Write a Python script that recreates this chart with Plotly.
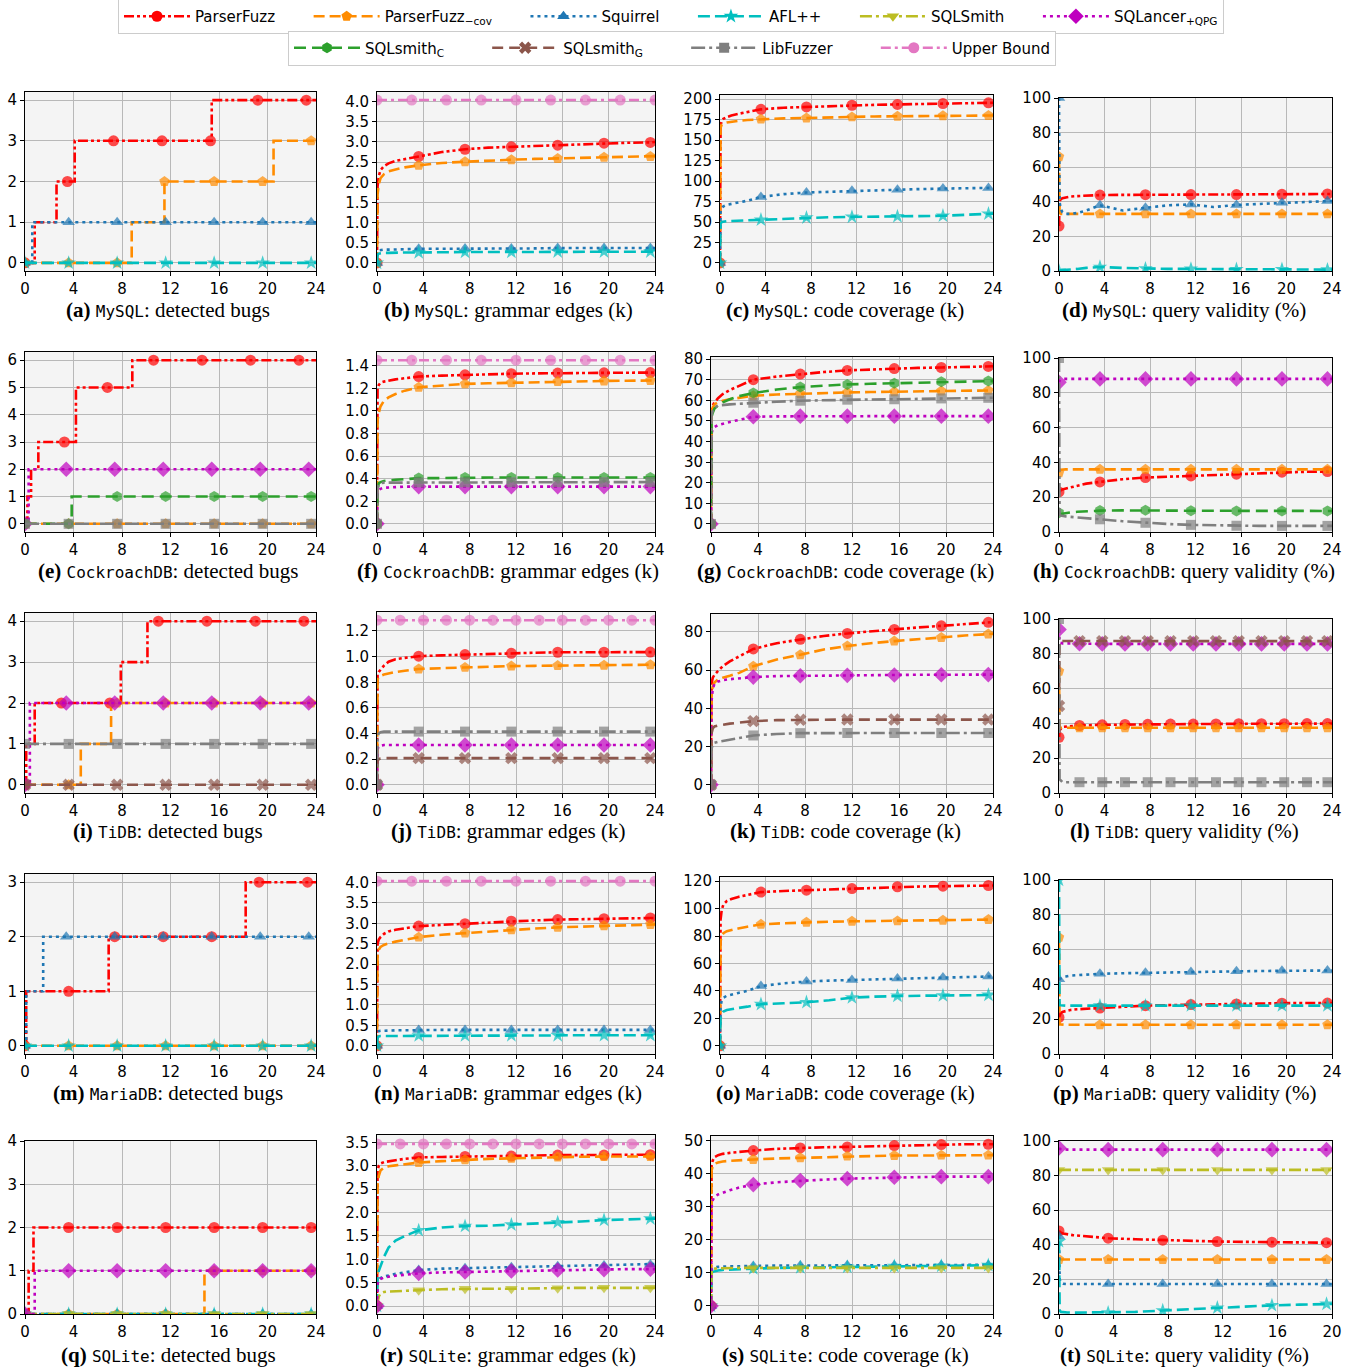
import plotly.graph_objects as go

W, H = 1357, 1368

# ---------------- shared time grids (hours) ----------------
T = [0, 0.05, 0.15, 0.3, 0.6, 1.0, 1.6, 2.4, 3.6, 5.6, 7.6, 9.6, 11.6, 13.6, 15.6, 17.6, 19.6, 21.6, 23.6, 24]
MK = [0, 3.6, 7.6, 11.6, 15.6, 19.6, 23.6]
T_L = [0, 0.05, 0.3, 1.8, 3.8, 5.8, 7.8, 9.8, 11.8, 13.8, 15.8, 17.8, 19.8, 21.8, 23.6, 24]
MK_L = [0, 1.8, 3.8, 5.8, 7.8, 9.8, 11.8, 13.8, 15.8, 17.8, 19.8, 21.8, 23.6]
T_T = [0, 0.05, 0.15, 0.3, 0.6, 1.0, 1.6, 2.4, 3.6, 5.6, 7.6, 9.6, 11.6, 13.6, 15.6, 17.6, 19.6, 20]
UB_T3 = [0, 3, 6, 9, 12, 15, 18, 21, 24]
UB_T2 = [0, 2, 4, 6, 8, 10, 12, 14, 16, 18, 20, 22, 24]
ZERO_T = [0, 3.6, 7.6, 11.6, 15.6, 19.6, 23.6, 24]
ZERO_V = [0, 0, 0, 0, 0, 0, 0, 0]

# ---------------- (a) MySQL: detected bugs ----------------
A_PF_T = [0, 0.8, 2.6, 3.5, 4.1, 7.3, 11.3, 15.3, 15.4, 19.2, 23.2, 24]
A_PF_V = [0, 1, 2, 2, 3, 3, 3, 3, 4, 4, 4, 4]
A_PF_M = [0, 3.5, 7.3, 11.3, 15.3, 19.2, 23.2]
A_COV_T = [0, 3.6, 7.6, 8.8, 11.5, 15.6, 19.6, 20.5, 23.6, 24]
A_COV_V = [0, 0, 0, 1, 2, 2, 2, 3, 3, 3]
A_COV_M = [0, 3.6, 7.6, 11.5, 15.6, 19.6, 23.6]
A_SQ_T = [0, 0.6, 3.6, 7.6, 11.6, 15.6, 19.6, 23.6, 24]
A_SQ_V = [0, 1, 1, 1, 1, 1, 1, 1, 1]

# ---------------- (b) MySQL: grammar edges (k) ----------------
B_PF = [0, 1.9, 2.15, 2.3, 2.4, 2.47, 2.53, 2.58, 2.64, 2.75, 2.82, 2.86, 2.88, 2.9, 2.92, 2.95, 2.97, 2.98, 2.99, 3.0]
B_COV = [0, 1.7, 1.95, 2.1, 2.2, 2.27, 2.32, 2.37, 2.42, 2.48, 2.51, 2.54, 2.56, 2.58, 2.59, 2.61, 2.62, 2.63, 2.64, 2.65]
B_SQ = [0, 0.28, 0.31, 0.32, 0.33, 0.33, 0.34, 0.34, 0.35, 0.35, 0.36, 0.36, 0.36, 0.36, 0.37, 0.37, 0.37, 0.37, 0.37, 0.37]
B_AFL = [0, 0.2, 0.23, 0.24, 0.25, 0.25, 0.26, 0.26, 0.26, 0.27, 0.27, 0.27, 0.27, 0.27, 0.28, 0.28, 0.28, 0.28, 0.28, 0.28]
B_UB = 4.04

# ---------------- (c) MySQL: code coverage (k) ----------------
C_PF = [0, 168, 173, 176, 178, 180, 182, 184, 187.5, 189.5, 190.5, 191.5, 192.5, 193, 193.5, 194, 194.5, 195, 195.5, 195.5]
C_COV = [0, 165, 169, 170.5, 171.5, 172.5, 173.5, 174.5, 175.5, 176.5, 177, 177.8, 178.3, 178.8, 179, 179.3, 179.6, 179.8, 180, 180]
C_SQ = [0, 62, 67, 69, 71, 72, 74, 76, 80.5, 84, 86, 87, 88, 88.8, 89.5, 90.2, 90.8, 91.2, 91.6, 91.7]
C_AFL = [0, 48, 50, 50.5, 51, 51.3, 51.6, 52, 52.7, 54, 55.3, 55.8, 56.2, 56.5, 56.8, 57.2, 57.6, 58.8, 60, 60.2]

# ---------------- (d) MySQL: query validity (%) ----------------
D_PF = [26, 40, 41.5, 42, 42.5, 43, 43.3, 43.6, 43.9, 44, 44.1, 44.1, 44.2, 44.2, 44.2, 44.3, 44.3, 44.4, 44.5, 44.5]
D_COV = [66, 34, 33, 33, 33, 33, 33, 33, 33, 33, 33, 33, 33, 33, 33, 33, 33, 33, 33, 33]
D_SQ = [100, 40, 36, 34, 33, 33, 33.5, 35, 38, 35, 36.5, 38, 38.5, 37, 38.2, 38.8, 39.5, 40, 40.5, 40.5]
D_AFL = [0, 0.3, 0.4, 0.5, 0.6, 0.8, 1.2, 1.8, 2.3, 1.8, 1.4, 1.2, 1.2, 1.1, 1.0, 1.0, 1.0, 0.9, 0.8, 0.8]

# ---------------- (e) CockroachDB: detected bugs ----------------
E_PF_T = [0, 0.2, 0.5, 1.1, 3.25, 4.2, 6.8, 8.85, 10.6, 14.6, 18.6, 22.6, 24]
E_PF_V = [0, 1, 2, 3, 3, 5, 5, 6, 6, 6, 6, 6, 6]
E_PF_M = [0, 3.25, 6.8, 10.6, 14.6, 18.6, 22.6]
E_QPG_T = [0, 0.3, 3.4, 7.4, 11.4, 15.4, 19.4, 23.4, 24]
E_QPG_V = [0, 2, 2, 2, 2, 2, 2, 2, 2]
E_QPG_M = [0, 3.4, 7.4, 11.4, 15.4, 19.4, 23.4]
E_C_T = [0, 3.6, 3.85, 7.6, 11.6, 15.6, 19.6, 23.6, 24]
E_C_V = [0, 0, 1, 1, 1, 1, 1, 1, 1]

# ---------------- (f) CockroachDB: grammar edges (k) ----------------
F_PF = [0, 1.2, 1.23, 1.25, 1.26, 1.27, 1.28, 1.29, 1.305, 1.313, 1.32, 1.325, 1.33, 1.333, 1.336, 1.337, 1.338, 1.339, 1.34, 1.34]
F_COV = [0, 0.92, 0.98, 1.04, 1.09, 1.12, 1.15, 1.18, 1.21, 1.228, 1.24, 1.245, 1.25, 1.255, 1.26, 1.263, 1.266, 1.268, 1.27, 1.27]
F_C = [0, 0.3, 0.36, 0.37, 0.38, 0.385, 0.39, 0.395, 0.405, 0.405, 0.41, 0.41, 0.41, 0.41, 0.41, 0.41, 0.41, 0.41, 0.41, 0.41]
F_LIB = [0, 0.32, 0.35, 0.36, 0.365, 0.365, 0.367, 0.367, 0.367, 0.368, 0.368, 0.368, 0.369, 0.369, 0.369, 0.37, 0.37, 0.37, 0.37, 0.37]
F_QPG = [0, 0.28, 0.3, 0.31, 0.32, 0.32, 0.325, 0.33, 0.33, 0.33, 0.33, 0.33, 0.33, 0.33, 0.33, 0.33, 0.33, 0.33, 0.33, 0.33]
F_UB = 1.45

# ---------------- (g) CockroachDB: code coverage (k) ----------------
G_PF = [0, 56, 57.5, 59, 61, 63, 65, 67, 70, 71.5, 72.7, 73.7, 74.5, 75, 75.4, 75.7, 75.9, 76.2, 76.4, 76.5]
G_COV = [0, 54, 56.5, 58, 59, 59.8, 60.5, 61.3, 62.2, 62.8, 63.2, 63.5, 63.8, 64, 64.1, 64.3, 64.5, 64.7, 64.8, 64.8]
G_QPG = [0, 44, 46, 47, 48, 48.7, 49.5, 50.5, 52, 52.2, 52.3, 52.3, 52.3, 52.3, 52.3, 52.3, 52.3, 52.3, 52.3, 52.3]
G_C = [0, 52, 54, 56, 57.5, 59, 60.5, 62, 63.5, 65.2, 66.4, 67.2, 67.7, 68, 68.3, 68.7, 69, 69.2, 69.3, 69.3]
G_LIB = [0, 53, 55, 56.5, 57.5, 57.8, 58, 58.3, 58.8, 59.3, 59.8, 60.1, 60.3, 60.4, 60.5, 60.7, 60.9, 61.1, 61.2, 61.2]

# ---------------- (h) CockroachDB: query validity (%) ----------------
H_PF = [23, 23.5, 24, 24.5, 25, 25.8, 26.8, 27.8, 28.8, 30.3, 31.3, 31.8, 32.2, 32.7, 33.2, 33.8, 34.4, 34.6, 34.7, 34.7]
H_COV = [34, 35.5, 35.8, 36, 36, 36, 36, 36, 36, 36, 36, 36, 36, 36, 36, 36, 36, 36, 36, 36]
H_QPG = [86, 87, 87.5, 88, 88, 88, 88, 88, 88, 88, 88, 88, 88, 88, 88, 88, 88, 88, 88, 88]
H_C = [11, 10.2, 10.3, 10.5, 10.8, 11.2, 11.6, 12, 12.3, 12.4, 12.5, 12.3, 12.2, 12.2, 12.1, 12.1, 12.1, 12.1, 12.1, 12.1]
H_LIB = [100, 10, 9.5, 9.2, 9, 8.7, 8.3, 7.9, 7.3, 6.2, 5.3, 4.6, 4.1, 3.8, 3.6, 3.5, 3.5, 3.5, 3.5, 3.5]

# ---------------- (i) TiDB: detected bugs ----------------
I_PF_T = [0, 0.1, 0.8, 3.0, 7.0, 7.9, 10.1, 11.0, 15.0, 19.0, 23.0, 24]
I_PF_V = [0, 1, 2, 2, 2, 3, 4, 4, 4, 4, 4, 4]
I_PF_M = [0, 3.0, 7.0, 11.0, 15.0, 19.0, 23.0]
I_COV_T = [0, 3.6, 4.6, 7.1, 7.6, 11.6, 15.6, 19.6, 23.6, 24]
I_COV_V = [0, 0, 1, 2, 2, 2, 2, 2, 2, 2]
I_QPG_T = [0, 0.4, 3.4, 7.4, 11.4, 15.4, 19.4, 23.4, 24]
I_QPG_V = [0, 2, 2, 2, 2, 2, 2, 2, 2]
I_QPG_M = [0, 3.4, 7.4, 11.4, 15.4, 19.4, 23.4]
I_LIB_V = [1, 1, 1, 1, 1, 1, 1, 1]

# ---------------- (j) TiDB: grammar edges (k) ----------------
J_PF = [0, 0.86, 0.88, 0.9, 0.93, 0.96, 0.98, 0.99, 1.003, 1.01, 1.016, 1.021, 1.026, 1.03, 1.034, 1.034, 1.034, 1.034, 1.035, 1.035]
J_COV = [0, 0.82, 0.84, 0.85, 0.86, 0.87, 0.88, 0.89, 0.903, 0.91, 0.916, 0.921, 0.926, 0.928, 0.93, 0.932, 0.933, 0.935, 0.937, 0.937]
J_QPG = [0, 0.28, 0.3, 0.305, 0.31, 0.31, 0.31, 0.31, 0.31, 0.31, 0.31, 0.31, 0.31, 0.31, 0.31, 0.31, 0.31, 0.31, 0.31, 0.31]
J_G = [0, 0.19, 0.2, 0.205, 0.208, 0.208, 0.208, 0.208, 0.208, 0.208, 0.208, 0.208, 0.208, 0.208, 0.208, 0.208, 0.208, 0.208, 0.208, 0.208]
J_LIB = [0, 0.38, 0.4, 0.41, 0.415, 0.415, 0.415, 0.415, 0.415, 0.415, 0.415, 0.415, 0.415, 0.415, 0.415, 0.415, 0.415, 0.415, 0.415, 0.415]
J_UB = 1.284

# ---------------- (k) TiDB: code coverage (k) ----------------
K_PF = [0, 53, 56, 57.5, 59.5, 62, 64.5, 67, 71, 74, 76, 77.8, 79.1, 80.3, 81.2, 82.2, 83.1, 84, 84.9, 85]
K_COV = [0, 48, 51.5, 53.5, 55, 56, 57, 58.5, 62, 65.5, 68, 70.7, 72.5, 74, 75.1, 76.2, 77, 78, 78.8, 78.9]
K_QPG = [0, 44, 50, 53, 54, 54.7, 55.2, 55.7, 56.3, 56.8, 57, 57.1, 57.2, 57.3, 57.4, 57.5, 57.5, 57.6, 57.6, 57.6]
K_G = [0, 27, 29.5, 30.5, 31, 31.5, 32, 32.5, 33.3, 33.8, 34, 34.1, 34.1, 34.1, 34.1, 34.1, 34.1, 34.1, 34.1, 34.1]
K_LIB = [0, 19, 21, 22, 22.5, 23, 23.5, 24.5, 25.8, 26.6, 27, 27.1, 27.1, 27.1, 27.1, 27.1, 27.1, 27.1, 27.1, 27.1]

# ---------------- (l) TiDB: query validity (%) ----------------
L_PF = [32, 36, 38, 38.8, 39.2, 39.4, 39.5, 39.6, 39.6, 39.7, 39.8, 39.8, 39.8, 39.9, 39.9, 39.9]
L_COV = [70, 37.5, 37.5, 37.5, 37.5, 37.5, 37.5, 37.5, 37.5, 37.5, 37.5, 37.5, 37.5, 37.5, 37.5, 37.5]
L_QPG = [94, 86.5, 86, 85.8, 85.7, 85.7, 85.7, 85.7, 85.7, 85.7, 85.7, 85.7, 85.7, 85.7, 85.7, 85.7]
L_G = [50, 87.5, 87.4, 87.3, 87.3, 87.3, 87.3, 87.3, 87.3, 87.3, 87.3, 87.3, 87.3, 87.3, 87.3, 87.3]
L_LIB = [100, 8, 6.2, 6.2, 6.2, 6.2, 6.2, 6.2, 6.2, 6.2, 6.2, 6.2, 6.2, 6.2, 6.2, 6.2]

# ---------------- (m) MariaDB: detected bugs ----------------
M_PF_T = [0, 0.1, 3.6, 6.9, 7.4, 11.4, 15.4, 18.2, 19.3, 23.3, 24]
M_PF_V = [0, 1, 1, 2, 2, 2, 2, 3, 3, 3, 3]
M_PF_M = [0, 3.6, 7.4, 11.4, 15.4, 19.3, 23.3]
M_SQ_T = [0, 0.1, 1.5, 3.4, 7.4, 11.4, 15.4, 19.4, 23.4, 24]
M_SQ_V = [0, 1, 2, 2, 2, 2, 2, 2, 2, 2]
M_SQ_M = [0, 3.4, 7.4, 11.4, 15.4, 19.4, 23.4]

# ---------------- (n) MariaDB: grammar edges (k) ----------------
N_PF = [0, 2.5, 2.6, 2.66, 2.74, 2.8, 2.84, 2.88, 2.93, 2.96, 2.99, 3.02, 3.05, 3.07, 3.09, 3.1, 3.11, 3.12, 3.13, 3.13]
N_COV = [0, 2.25, 2.35, 2.42, 2.47, 2.51, 2.55, 2.59, 2.66, 2.72, 2.76, 2.8, 2.84, 2.87, 2.9, 2.92, 2.94, 2.96, 2.97, 2.97]
N_SQ = [0, 0.33, 0.36, 0.37, 0.37, 0.38, 0.38, 0.38, 0.39, 0.39, 0.39, 0.39, 0.39, 0.39, 0.39, 0.39, 0.39, 0.39, 0.39, 0.39]
N_AFL = [0, 0.2, 0.23, 0.24, 0.24, 0.24, 0.245, 0.245, 0.25, 0.25, 0.25, 0.25, 0.255, 0.255, 0.255, 0.26, 0.26, 0.26, 0.26, 0.26]
N_UB = 4.03

# ---------------- (o) MariaDB: code coverage (k) ----------------
O_PF = [0, 92, 99, 103, 105.5, 107, 108.5, 110, 112, 112.8, 113.4, 114, 114.6, 115.3, 115.9, 116.1, 116.3, 116.6, 116.8, 116.8]
O_COV = [0, 76, 80, 82, 83.5, 84.5, 85.5, 86.8, 88.5, 89.3, 90, 90.4, 90.7, 90.9, 91, 91.2, 91.5, 91.8, 92, 92]
O_SQ = [0, 29, 33, 35, 36.5, 37.5, 38.5, 40, 43.5, 45.5, 46.8, 47.5, 48, 48.5, 49, 49.4, 49.8, 50.2, 50.5, 50.5]
O_AFL = [0, 20, 23, 25, 26, 26.8, 27.5, 28.5, 30.3, 31, 31.7, 33.2, 35.1, 35.8, 36.3, 36.5, 36.6, 36.8, 37, 37]

# ---------------- (p) MariaDB: query validity (%) ----------------
P_PF = [21, 22.5, 23.5, 24.2, 24.8, 25.3, 25.7, 26, 26.4, 27.2, 27.8, 28.1, 28.4, 28.6, 28.8, 29, 29.2, 29.3, 29.3, 29.3]
P_COV = [67, 17, 17, 16.8, 16.8, 16.8, 16.8, 16.8, 16.8, 16.8, 16.8, 16.8, 16.8, 16.8, 16.8, 16.8, 16.8, 16.8, 16.8, 16.8]
P_SQ = [43, 43, 43.5, 44, 44.5, 45, 45.3, 45.6, 46.1, 46.4, 46.7, 46.9, 47.1, 47.3, 47.5, 47.7, 47.9, 48, 48, 48]
P_AFL = [100, 28, 28, 27.8, 27.8, 27.8, 27.8, 27.8, 27.8, 27.8, 27.8, 27.8, 27.8, 27.8, 27.8, 27.8, 27.8, 27.8, 27.8, 27.8]

# ---------------- (q) SQLite: detected bugs ----------------
Q_PF_T = [0, 0.3, 0.7, 3.6, 7.6, 11.6, 15.6, 19.6, 23.6, 24]
Q_PF_V = [0, 1, 2, 2, 2, 2, 2, 2, 2, 2]
Q_COV_T = [0, 3.6, 7.6, 11.6, 14.8, 15.6, 19.6, 23.6, 24]
Q_COV_V = [0, 0, 0, 0, 1, 1, 1, 1, 1]
Q_QPG_T = [0, 0.8, 3.6, 7.6, 11.6, 15.6, 19.6, 23.6, 24]
Q_QPG_V = [0, 1, 1, 1, 1, 1, 1, 1, 1]

# ---------------- (r) SQLite: grammar edges (k) ----------------
R_PF = [0, 2.9, 3.0, 3.05, 3.08, 3.1, 3.12, 3.15, 3.18, 3.19, 3.2, 3.205, 3.21, 3.22, 3.23, 3.23, 3.23, 3.235, 3.24, 3.24]
R_COV = [0, 2.6, 2.78, 2.9, 2.96, 2.99, 3.01, 3.03, 3.07, 3.1, 3.13, 3.15, 3.16, 3.175, 3.19, 3.195, 3.2, 3.2, 3.2, 3.2]
R_SQ = [0, 0.52, 0.57, 0.6, 0.63, 0.66, 0.69, 0.72, 0.77, 0.8, 0.81, 0.82, 0.83, 0.84, 0.85, 0.86, 0.87, 0.88, 0.89, 0.9]
R_AFL = [0, 0.6, 0.75, 0.85, 1.05, 1.25, 1.4, 1.5, 1.62, 1.68, 1.71, 1.72, 1.74, 1.76, 1.79, 1.81, 1.84, 1.85, 1.87, 1.87]
R_SMITH = [0, 0.1, 0.2, 0.27, 0.3, 0.31, 0.32, 0.33, 0.34, 0.36, 0.37, 0.37, 0.37, 0.38, 0.38, 0.39, 0.39, 0.39, 0.39, 0.39]
R_QPG = [0, 0.48, 0.55, 0.58, 0.61, 0.63, 0.65, 0.67, 0.7, 0.72, 0.73, 0.74, 0.75, 0.76, 0.77, 0.78, 0.78, 0.79, 0.79, 0.79]
R_UB = 3.47

# ---------------- (s) SQLite: code coverage (k) ----------------
S_PF = [0, 42.5, 44, 45, 45.6, 46, 46.3, 46.6, 47, 47.5, 47.8, 48, 48.1, 48.3, 48.5, 48.6, 48.8, 48.9, 48.9, 48.9]
S_COV = [0, 41, 42.3, 43, 43.4, 43.7, 43.9, 44.1, 44.3, 44.6, 44.8, 45.1, 45.3, 45.4, 45.5, 45.5, 45.6, 45.6, 45.6, 45.6]
S_SQ = [0, 11, 11.5, 11.7, 11.8, 11.9, 12, 12, 12.1, 12.2, 12.2, 12.3, 12.3, 12.3, 12.3, 12.4, 12.4, 12.4, 12.4, 12.4]
S_AFL = [0, 10, 10.3, 10.5, 10.7, 10.9, 11, 11.1, 11.3, 11.5, 11.6, 11.7, 11.8, 11.9, 12, 12, 12.1, 12.2, 12.3, 12.3]
S_SMITH = [0, 11, 11.2, 11.3, 11.4, 11.4, 11.5, 11.5, 11.5, 11.5, 11.5, 11.5, 11.5, 11.5, 11.5, 11.5, 11.5, 11.5, 11.5, 11.5]
S_QPG = [0, 30, 32, 33, 33.7, 34.3, 35, 35.8, 36.7, 37.4, 37.9, 38.2, 38.5, 38.7, 38.9, 39, 39.1, 39.1, 39.1, 39.1]

# ---------------- (t) SQLite: query validity (%) ----------------
T_PF = [48, 47.5, 47, 46.5, 46, 45.6, 45.2, 44.6, 43.8, 43.2, 42.7, 42.3, 41.9, 41.7, 41.5, 41.3, 41.2, 41.2]
T_COV = [31.5, 31.5, 31.5, 31.5, 31.5, 31.5, 31.5, 31.5, 31.5, 31.5, 31.5, 31.5, 31.5, 31.5, 31.5, 31.5, 31.5, 31.5]
T_SQ = [45, 20, 18, 17.5, 17.3, 17.3, 17.3, 17.3, 17.3, 17.3, 17.3, 17.3, 17.3, 17.3, 17.3, 17.3, 17.3, 17.3]
T_AFL = [42, 2, 1.2, 1, 0.9, 0.8, 0.8, 0.8, 0.8, 1.2, 2.0, 2.8, 3.6, 4.4, 5.0, 5.4, 5.8, 5.8]
T_SMITH = [83.3, 83.3, 83.3, 83.3, 83.3, 83.3, 83.3, 83.3, 83.3, 83.3, 83.3, 83.3, 83.3, 83.3, 83.3, 83.3, 83.3, 83.3]
T_QPG = [96, 95.5, 95.2, 95, 95, 95, 95, 95, 95, 95, 95, 95, 95, 95, 95, 95, 95, 95]

DBS = ["MySQL", "CockroachDB", "TiDB", "MariaDB", "SQLite"]
METRICS = ["detected bugs", "grammar edges (k)", "code coverage (k)", "query validity (%)"]

# ---------------- styles ----------------
STY = {
    'PF':    dict(name='ParserFuzz', color='#ff0000', dash='10px,3px,3px,3px,3px,3px', symbol='circle', ms=11),
    'COV':   dict(name='ParserFuzz<sub>−cov</sub>', color='#ff8c00', dash='11px,5px', symbol='pentagon', ms=11),
    'SQ':    dict(name='Squirrel', color='#1f77b4', dash='3px,4px', symbol='triangle-up', ms=11),
    'AFL':   dict(name='AFL++', color='#00bfbf', dash='12px,5px', symbol='star', ms=11),
    'SMITH': dict(name='SQLSmith', color='#bcbd22', dash='12px,4px,3px,4px', symbol='triangle-down', ms=11),
    'QPG':   dict(name='SQLancer<sub>+QPG</sub>', color='#bf00bf', dash='3px,4px', symbol='diamond', ms=12),
    'C':     dict(name='SQLsmith<sub>C</sub>', color='#2ca02c', dash='12px,6px', symbol='hexagon', ms=11),
    'G':     dict(name='SQLsmith<sub>G</sub>', color='#8c564b', dash='11px,6px', symbol='x', ms=11),
    'LIB':   dict(name='LibFuzzer', color='#7f7f7f', dash='14px,4px,3px,4px', symbol='square', ms=10),
    'UB':    dict(name='Upper Bound', color='#e377c2', dash='10px,4px,3px,4px', symbol='circle', ms=11),
}
ORDER = ['PF', 'COV', 'SQ', 'AFL', 'SMITH', 'QPG', 'C', 'G', 'LIB', 'UB']


def ub(ts, val):
    return (ts, [val for _ in ts], ts, 'linear')


def sm(ts, vs, marks):
    return (ts, vs, marks, 'linear')


def st(ts, vs, marks):
    return (ts, vs, marks, 'hv')


PANELS = [
    (dict(PF=st(A_PF_T, A_PF_V, A_PF_M), COV=st(A_COV_T, A_COV_V, A_COV_M),
          SQ=st(A_SQ_T, A_SQ_V, MK), AFL=st(ZERO_T, ZERO_V, MK)), [-0.2, 4.2], 1, 'd', 24),
    (dict(PF=sm(T, B_PF, MK), COV=sm(T, B_COV, MK), SQ=sm(T, B_SQ, MK), AFL=sm(T, B_AFL, MK),
          UB=ub(UB_T3, B_UB)), [-0.2, 4.24], 0.5, '.1f', 24),
    (dict(PF=sm(T, C_PF, MK), COV=sm(T, C_COV, MK), SQ=sm(T, C_SQ, MK), AFL=sm(T, C_AFL, MK)),
     [-9.8, 205], 25, 'd', 24),
    (dict(PF=sm(T, D_PF, MK), COV=sm(T, D_COV, MK), SQ=sm(T, D_SQ, MK), AFL=sm(T, D_AFL, MK)),
     [0, 100], 20, 'd', 24),
    (dict(PF=st(E_PF_T, E_PF_V, E_PF_M), COV=st(ZERO_T, ZERO_V, MK), QPG=st(E_QPG_T, E_QPG_V, E_QPG_M),
          C=st(E_C_T, E_C_V, MK), LIB=st(ZERO_T, ZERO_V, MK)), [-0.3, 6.3], 1, 'd', 24),
    (dict(PF=sm(T, F_PF, MK), COV=sm(T, F_COV, MK), QPG=sm(T, F_QPG, MK), C=sm(T, F_C, MK),
          LIB=sm(T, F_LIB, MK), UB=ub(UB_T3, F_UB)), [-0.0725, 1.5225], 0.2, '.1f', 24),
    (dict(PF=sm(T, G_PF, MK), COV=sm(T, G_COV, MK), QPG=sm(T, G_QPG, MK), C=sm(T, G_C, MK),
          LIB=sm(T, G_LIB, MK)), [-3.9, 81], 10, 'd', 24),
    (dict(PF=sm(T, H_PF, MK), COV=sm(T, H_COV, MK), QPG=sm(T, H_QPG, MK), C=sm(T, H_C, MK),
          LIB=sm(T, H_LIB, MK)), [0, 100], 20, 'd', 24),
    (dict(PF=st(I_PF_T, I_PF_V, I_PF_M), COV=st(I_COV_T, I_COV_V, MK), QPG=st(I_QPG_T, I_QPG_V, I_QPG_M),
          G=st(ZERO_T, ZERO_V, MK), LIB=st(ZERO_T, I_LIB_V, MK)), [-0.2, 4.2], 1, 'd', 24),
    (dict(PF=sm(T, J_PF, MK), COV=sm(T, J_COV, MK), QPG=sm(T, J_QPG, MK), G=sm(T, J_G, MK),
          LIB=sm(T, J_LIB, MK), UB=ub(UB_T2, J_UB)), [-0.064, 1.348], 0.2, '.1f', 24),
    (dict(PF=sm(T, K_PF, MK), COV=sm(T, K_COV, MK), QPG=sm(T, K_QPG, MK), G=sm(T, K_G, MK),
          LIB=sm(T, K_LIB, MK)), [-4.25, 89.25], 20, 'd', 24),
    (dict(PF=sm(T_L, L_PF, MK_L), COV=sm(T_L, L_COV, MK_L), QPG=sm(T_L, L_QPG, MK_L),
          G=sm(T_L, L_G, MK_L), LIB=sm(T_L, L_LIB, MK_L)), [0, 100], 20, 'd', 24),
    (dict(PF=st(M_PF_T, M_PF_V, M_PF_M), COV=st(ZERO_T, ZERO_V, MK), SQ=st(M_SQ_T, M_SQ_V, M_SQ_M),
          AFL=st(ZERO_T, ZERO_V, MK)), [-0.15, 3.15], 1, 'd', 24),
    (dict(PF=sm(T, N_PF, MK), COV=sm(T, N_COV, MK), SQ=sm(T, N_SQ, MK), AFL=sm(T, N_AFL, MK),
          UB=ub(UB_T3, N_UB)), [-0.2, 4.23], 0.5, '.1f', 24),
    (dict(PF=sm(T, O_PF, MK), COV=sm(T, O_COV, MK), SQ=sm(T, O_SQ, MK), AFL=sm(T, O_AFL, MK)),
     [-6, 123], 20, 'd', 24),
    (dict(PF=sm(T, P_PF, MK), COV=sm(T, P_COV, MK), SQ=sm(T, P_SQ, MK), AFL=sm(T, P_AFL, MK)),
     [0, 100], 20, 'd', 24),
    (dict(PF=st(Q_PF_T, Q_PF_V, MK), COV=st(Q_COV_T, Q_COV_V, MK), SQ=st(ZERO_T, ZERO_V, MK),
          AFL=st(ZERO_T, ZERO_V, MK), SMITH=st(ZERO_T, ZERO_V, MK), QPG=st(Q_QPG_T, Q_QPG_V, MK)),
     [0, 4], 1, 'd', 24),
    (dict(PF=sm(T, R_PF, MK), COV=sm(T, R_COV, MK), SQ=sm(T, R_SQ, MK), AFL=sm(T, R_AFL, MK),
          SMITH=sm(T, R_SMITH, MK), QPG=sm(T, R_QPG, MK), UB=ub(UB_T2, R_UB)), [-0.17, 3.66], 0.5, '.1f', 24),
    (dict(PF=sm(T, S_PF, MK), COV=sm(T, S_COV, MK), SQ=sm(T, S_SQ, MK), AFL=sm(T, S_AFL, MK),
          SMITH=sm(T, S_SMITH, MK), QPG=sm(T, S_QPG, MK)), [-2.45, 51.4], 10, 'd', 24),
    (dict(PF=sm(T_T, T_PF, MK), COV=sm(T_T, T_COV, MK), SQ=sm(T_T, T_SQ, MK), AFL=sm(T_T, T_AFL, MK),
          SMITH=sm(T_T, T_SMITH, MK), QPG=sm(T_T, T_QPG, MK)), [0, 100], 20, 'd', 20),
]

# ---------------- layout geometry (pixels) ----------------
COL_LR = [(25, 316), (377, 655), (711, 993), (1059, 1332)]
COL3_LEFT = [720, 711, 711, 720, 711]
TOPS = [[92, 92, 95, 98], [352, 352, 357, 358], [613, 612, 614, 619], [874, 873, 877, 880], [1141, 1135, 1136, 1141]]
BOTS = [271, 532, 793, 1054, 1314]
CAP_Y = [310, 571, 831, 1093, 1355]
CAP_X = [168, 508, 845, 1184]

fig = go.Figure()
layout = dict(width=W, height=H, autosize=False, margin=dict(l=0, r=0, t=0, b=0, pad=0, autoexpand=False),
              paper_bgcolor='white', plot_bgcolor='#f4f4f4', hovermode=False)
annotations = []
TICKFONT = dict(family='DejaVu Sans', size=15, color='black')

for idx, (series, yr, dt, fmt, xmax) in enumerate(PANELS):
    r, c = divmod(idx, 4)
    n = idx + 1
    xs = '' if n == 1 else str(n)
    left, right = COL_LR[c]
    if c == 2:
        left = COL3_LEFT[r]
    top, bot = TOPS[r][c], BOTS[r]
    common = dict(showline=True, mirror=True, linecolor='black', linewidth=1, ticks='outside',
                  ticklen=4, tickcolor='black', showgrid=True, gridcolor='#b8b8b8', gridwidth=1,
                  zeroline=False, tickfont=TICKFONT, fixedrange=True, automargin=False)
    layout['xaxis' + xs] = dict(domain=[left / W, right / W], anchor='y' + xs, range=[0, xmax],
                                tick0=0, dtick=4, **common)
    layout['yaxis' + xs] = dict(domain=[1 - bot / H, 1 - top / H], anchor='x' + xs, range=yr,
                                tick0=0, dtick=dt, tickformat=fmt, **common)
    for key in ORDER:
        if key not in series:
            continue
        xv, yv, marks, shape = series[key]
        s = STY[key]
        sizes = [s['ms'] if t in marks else 0 for t in xv]
        fig.add_trace(go.Scatter(
            x=xv, y=yv, mode='lines+markers', line=dict(color=s['color'], width=2.6, dash=s['dash'], shape=shape),
            marker=dict(symbol=s['symbol'], size=sizes, color=s['color'], line=dict(width=0)),
            showlegend=False, xaxis='x' + xs, yaxis='y' + xs, hoverinfo='skip'))
    letter = chr(ord('a') + idx)
    annotations.append(dict(
        x=CAP_X[c] / W, y=1 - CAP_Y[r] / H, xref='paper', yref='paper', xanchor='center', yanchor='middle',
        showarrow=False, font=dict(family='Liberation Serif', size=21, color='black'),
        text=f"<b>({letter})</b> <span style=\"font-family:DejaVu Sans Mono;font-size:16px\">{DBS[r]}</span>: {METRICS[c]}"))

# legend entries (trailing no-break spaces add the gap between entries)
PAD1 = '\u00a0' * 6
PAD2 = '\u00a0' * 8
for i, key in enumerate(ORDER):
    s = STY[key]
    last = (i == 5 or i == 9)
    pad = '' if last else (PAD1 if i < 6 else PAD2)
    fig.add_trace(go.Scatter(
        x=[None], y=[None], mode='lines+markers', name=s['name'] + pad,
        line=dict(color=s['color'], width=2.6, dash=s['dash']),
        marker=dict(symbol=s['symbol'], size=s['ms'], color=s['color']),
        legend='legend' if i < 6 else 'legend2', showlegend=True, xaxis='x', yaxis='y'))

LEG = dict(orientation='h', xanchor='center', yanchor='middle', bordercolor='#cccccc', borderwidth=1,
           bgcolor='white', font=dict(family='DejaVu Sans', size=15, color='black'), itemwidth=66)
layout['legend'] = dict(x=671 / W, y=1 - 16.5 / H, **LEG)
layout['legend2'] = dict(x=672 / W, y=1 - 48 / H, **LEG)
layout['annotations'] = annotations
fig.update_layout(**layout)

fig.write_html("out.html", config={'displayModeBar': False},
               post_script="document.body.style.margin='0';")
